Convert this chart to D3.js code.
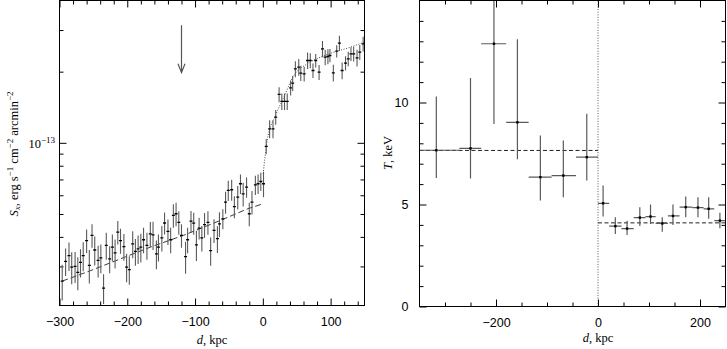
<!DOCTYPE html>
<html>
<head>
<meta charset="utf-8">
<script src="https://cdn.jsdelivr.net/npm/d3@7"></script>
<style>
  body { margin: 0; background: #fff; }
  svg { display: block; font-family: "Liberation Serif", "DejaVu Serif", serif; }
</style>
</head>
<body>
<svg id="chart" width="727" height="349"></svg>
<script>
// surface brightness profile (units of 1e-14 erg s^-1 cm^-2 arcmin^-2)
const sxDist = [-296, -291, -286, -282, -277, -273, -269, -265, -260, -256,
  -252, -248, -243, -239, -235, -231, -226, -222, -218, -214,
  -210, -205, -201, -197, -192, -188, -184, -180, -176, -171,
  -166, -162, -157, -154, -149, -145, -140, -136, -132, -128,
  -124, -120, -114, -111, -106, -102, -98, -94, -90, -86,
  -81, -77, -72, -67, -64, -59, -55, -51, -46, -42,
  -37, -33, -29, -24, -20, -16, -11, -7, -3, 1,
  5, 10, 15, 19, 24, 28, 32, 36, 41, 44,
  48, 53, 56, 61, 66, 70, 74, 78, 83, 88,
  92, 96, 99, 104, 109, 113, 117, 122, 126, 130,
  134, 139, 143, 148];
const sxVal = [2.60, 3.15, 3.33, 2.98, 3.00, 2.83, 3.12, 3.33, 3.86, 3.03,
  4.06, 3.52, 3.18, 3.26, 2.43, 3.68, 3.23, 3.62, 3.42, 4.19,
  3.86, 3.64, 2.98, 2.91, 3.74, 3.47, 3.56, 3.62, 3.89, 3.68,
  4.12, 4.08, 3.39, 3.62, 3.96, 4.58, 4.22, 3.89, 4.93, 5.01,
  4.61, 4.06, 3.30, 3.89, 4.66, 4.57, 3.70, 4.36, 3.96, 4.51,
  4.61, 3.50, 4.26, 3.93, 4.54, 4.77, 5.61, 6.29, 6.33, 5.37,
  5.89, 6.71, 6.08, 6.49, 5.01, 5.61, 6.64, 6.71, 6.86, 6.71,
  9.66, 11.46, 11.46, 12.84, 16.02, 14.96, 14.96, 14.96, 17.09, 17.88,
  20.56, 20.90, 19.71, 19.58, 22.30, 22.30, 20.23, 22.30, 19.90, 24.98,
  23.03, 23.18, 23.41, 19.77, 24.42, 26.40, 20.23, 21.73, 22.66, 23.79,
  23.79, 22.88, 24.18, 26.23];
const sxErr = [0.45, 0.42, 0.46, 0.46, 0.45, 0.45, 0.43, 0.47, 0.44, 0.49,
  0.46, 0.49, 0.49, 0.45, 0.35, 0.48, 0.42, 0.47, 0.48, 0.48,
  0.47, 0.47, 0.41, 0.40, 0.49, 0.45, 0.49, 0.50, 0.48, 0.48,
  0.50, 0.56, 0.47, 0.47, 0.49, 0.49, 0.52, 0.48, 0.56, 0.57,
  0.53, 0.46, 0.51, 0.48, 0.49, 0.49, 0.54, 0.46, 0.49, 0.54,
  0.53, 0.48, 0.49, 0.51, 0.54, 0.46, 0.60, 0.62, 0.64, 0.57,
  0.67, 0.63, 0.70, 0.64, 0.57, 0.64, 0.62, 0.64, 0.61, 0.83,
  0.72, 1.0, 1.0, 0.93, 1.17, 1.2, 1.2, 1.2, 1.25, 1.3,
  1.6, 1.7, 1.45, 1.4, 1.8, 1.6, 1.45, 1.45, 1.45, 1.95,
  1.75, 1.7, 1.5, 1.6, 1.45, 1.95, 1.65, 1.5, 1.6, 1.6,
  1.7, 1.85, 1.75, 1.9];

// model curves
const dashDist = [-296, -254, -210, -166, -117, -63, -23, 0];
const dashVal = [2.60, 2.88, 3.23, 3.62, 4.06, 4.69, 5.25, 5.52];
const dotDist = [0.5, 6.4, 18.7, 31, 45.8, 65.5, 85, 104.8, 129.4, 150];
const dotVal = [7.4, 10.23, 13.06, 15.6, 19.27, 21.59, 23.03, 24.18, 25.39, 26.7];

// arrow marker position
const arrowDist = -120;
const arrowVal = [31.4, 19.8];

// temperature profile, keV
const tDist = [-317, -250, -204, -158, -113, -68, -22, 10, 34, 57, 82, 103, 126, 147, 172, 196, 217, 239];
const tBinLo = [-350, -272, -229, -180, -136, -91, -43, 0, 22, 46, 70, 93, 113, 137, 160, 185, 207, 228];
const tBinHi = [-272, -229, -180, -136, -91, -43, 0, 22, 46, 70, 93, 113, 137, 160, 185, 207, 228, 250];
const tVal = [7.66, 7.75, 12.88, 9.03, 6.34, 6.42, 7.32, 5.06, 3.94, 3.82, 4.36, 4.41, 4.07, 4.44, 4.87, 4.85, 4.79, 4.21];
const tLow = [6.3, 6.27, 8.95, 7.22, 5.2, 5.36, 6.18, 4.41, 3.56, 3.51, 3.94, 4.05, 3.67, 4.0, 4.38, 4.38, 4.3, 3.83];
const tHigh = [10.3, 11.2, 16, 13.1, 8.38, 8.14, 9.45, 5.93, 4.38, 4.2, 4.87, 5.0, 4.38, 5.0, 5.39, 5.36, 5.36, 4.6];
const tMean = [{ from: -350, to: 0, t: 7.65 }, { from: 0, to: 250, t: 4.1 }];

const barColor = '#5a5a5a';
const svg = d3.select('#chart');

// ---------- left panel ----------
const xS = d3.scaleLinear().domain([-300, 150]).range([59.5, 364.5]);
const yS = d3.scaleLog().domain([2.05, 40]).range([305.5, 0.5]);

const left = svg.append('g');
left.append('clipPath').attr('id', 'clipL')
  .append('rect').attr('x', 59.5).attr('y', 0.5).attr('width', 305).attr('height', 305);

function drawTicks(g, scale, orient, major, minor, pos, labels) {
  const make = orient === 'bottom' ? d3.axisBottom : orient === 'top' ? d3.axisTop
    : orient === 'left' ? d3.axisLeft : d3.axisRight;
  const translate = (orient === 'bottom' || orient === 'top') ? `translate(0,${pos})` : `translate(${pos},0)`;
  const gMin = g.append('g').attr('transform', translate)
    .call(make(scale).tickValues(minor).tickSize(-4).tickFormat(''));
  const gMaj = g.append('g').attr('transform', translate)
    .call(make(scale).tickValues(major).tickSize(-7).tickPadding(orient === 'bottom' ? 12 : 11)
      .tickFormat(labels ? d3.format('d') : ''));
  [gMin, gMaj].forEach(a => {
    a.select('.domain').remove();
    a.selectAll('line').attr('stroke', '#000');
    a.selectAll('text').attr('font-family', null).attr('font-size', 12.5).attr('fill', '#000');
  });
}

const xMajL = [-300, -200, -100, 0, 100];
const xMinL = d3.range(-280, 150, 20).filter(v => v % 100 !== 0);
drawTicks(left, xS, 'bottom', xMajL, xMinL, 305.5, true);
drawTicks(left, xS, 'top', xMajL, xMinL, 0.5, false);
const yMajL = [10];
const yMinL = [3, 4, 5, 6, 7, 8, 9, 20, 30];
drawTicks(left, yS, 'left', yMajL, yMinL, 59.5, false);
drawTicks(left, yS, 'right', yMajL, yMinL, 364.5, false);

// 10^-13 label
const lab13 = left.append('text')
  .attr('x', 55).attr('y', yS(10) + 5)
  .attr('text-anchor', 'end').attr('font-size', 12.5);
lab13.append('tspan').text('10');
lab13.append('tspan').attr('font-size', 9).attr('dy', -5).text('\u221213');

const plotL = left.append('g').attr('clip-path', 'url(#clipL)');

plotL.append('path')
  .datum(dashDist.map((d, i) => [d, dashVal[i]]))
  .attr('fill', 'none').attr('stroke', '#222').attr('stroke-width', 0.9)
  .attr('stroke-dasharray', '6,3')
  .attr('d', d3.line().x(d => xS(d[0])).y(d => yS(d[1])));

plotL.append('path')
  .datum(dotDist.map((d, i) => [d, dotVal[i]]))
  .attr('fill', 'none').attr('stroke', '#333').attr('stroke-width', 0.9)
  .attr('stroke-dasharray', '1,1.6')
  .attr('d', d3.line().curve(d3.curveMonotoneX).x(d => xS(d[0])).y(d => yS(d[1])));

const pts = plotL.selectAll('g.pt')
  .data(sxDist.map((d, i) => ({ d: d, v: sxVal[i], e: sxErr[i] })))
  .enter().append('g').attr('class', 'pt');
pts.append('line')
  .attr('x1', p => xS(p.d)).attr('x2', p => xS(p.d))
  .attr('y1', p => yS(p.v - p.e)).attr('y2', p => yS(p.v + p.e))
  .attr('stroke', barColor).attr('stroke-width', 1.1);
pts.append('line')
  .attr('x1', p => xS(p.d - 2.2)).attr('x2', p => xS(p.d + 2.2))
  .attr('y1', p => yS(p.v)).attr('y2', p => yS(p.v))
  .attr('stroke', '#000').attr('stroke-width', 1.3);

// arrow
const ax = xS(arrowDist), ay0 = yS(arrowVal[0]), ay1 = yS(arrowVal[1]);
plotL.append('path')
  .attr('d', `M${ax},${ay0}L${ax},${ay1}M${ax - 3.5},${ay1 - 9}L${ax},${ay1}L${ax + 3.5},${ay1 - 9}`)
  .attr('fill', 'none').attr('stroke', '#555').attr('stroke-width', 1.2);

left.append('rect')
  .attr('x', 59.5).attr('y', 0.5).attr('width', 305).attr('height', 305)
  .attr('fill', 'none').attr('stroke', '#000');

// axis titles
const xtL = left.append('text').attr('x', 212).attr('y', 344)
  .attr('text-anchor', 'middle').attr('font-size', 12.5);
xtL.append('tspan').attr('font-style', 'italic').text('d');
xtL.append('tspan').text(', kpc');

const ytL = left.append('text').attr('transform', 'translate(18,154) rotate(-90)')
  .attr('text-anchor', 'middle').attr('font-size', 12.5);
ytL.append('tspan').attr('font-style', 'italic').text('S');
ytL.append('tspan').attr('font-style', 'italic').attr('font-size', 9).attr('dy', 2).text('x');
ytL.append('tspan').attr('dy', -2).text(', erg s');
ytL.append('tspan').attr('font-size', 9).attr('dy', -5).text('\u22121');
ytL.append('tspan').attr('dy', 5).text(' cm');
ytL.append('tspan').attr('font-size', 9).attr('dy', -5).text('\u22122');
ytL.append('tspan').attr('dy', 5).text(' arcmin');
ytL.append('tspan').attr('font-size', 9).attr('dy', -5).text('\u22122');

// ---------- right panel ----------
const xT = d3.scaleLinear().domain([-350, 250]).range([419.5, 725.5]);
const yT = d3.scaleLinear().domain([0, 15]).range([306.5, 0.5]);

const right = svg.append('g');
right.append('clipPath').attr('id', 'clipR')
  .append('rect').attr('x', 419.5).attr('y', 0.5).attr('width', 306).attr('height', 306);

const xMajR = [-200, 0, 200];
const xMinR = d3.range(-300, 250, 50).filter(v => v % 200 !== 0);
drawTicks(right, xT, 'bottom', xMajR, xMinR, 306.5, true);
drawTicks(right, xT, 'top', xMajR, xMinR, 0.5, false);
const yMajR = [0, 5, 10];
const yMinR = d3.range(1, 15).filter(v => v % 5 !== 0);
drawTicks(right, yT, 'left', yMajR, yMinR, 419.5, true);
drawTicks(right, yT, 'right', yMajR, yMinR, 725.5, false);

const plotR = right.append('g').attr('clip-path', 'url(#clipR)');

plotR.append('line')
  .attr('x1', xT(0)).attr('x2', xT(0)).attr('y1', yT(0)).attr('y2', yT(15))
  .attr('stroke', '#444').attr('stroke-width', 0.9).attr('stroke-dasharray', '1,1.6');

plotR.selectAll('line.mean').data(tMean).enter().append('line')
  .attr('class', 'mean')
  .attr('x1', m => xT(m.from)).attr('x2', m => xT(m.to))
  .attr('y1', m => yT(m.t)).attr('y2', m => yT(m.t))
  .attr('stroke', '#222').attr('stroke-width', 1).attr('stroke-dasharray', '4,2.5');

const tp = plotR.selectAll('g.tp')
  .data(tDist.map((d, i) => ({ d: d, lo: tBinLo[i], hi: tBinHi[i], t: tVal[i], tl: tLow[i], th: tHigh[i] })))
  .enter().append('g').attr('class', 'tp');
tp.append('line')
  .attr('x1', p => xT(p.lo)).attr('x2', p => xT(p.hi))
  .attr('y1', p => yT(p.t)).attr('y2', p => yT(p.t))
  .attr('stroke', barColor).attr('stroke-width', 1.2);
tp.append('line')
  .attr('x1', p => xT(p.d)).attr('x2', p => xT(p.d))
  .attr('y1', p => yT(p.tl)).attr('y2', p => yT(p.th))
  .attr('stroke', barColor).attr('stroke-width', 1.2);
tp.append('rect')
  .attr('x', p => xT(p.d) - 1.2).attr('y', p => yT(p.t) - 1.2)
  .attr('width', 2.4).attr('height', 2.4).attr('fill', '#000');

right.append('rect')
  .attr('x', 419.5).attr('y', 0.5).attr('width', 306).attr('height', 306)
  .attr('fill', 'none').attr('stroke', '#000');

const xtR = right.append('text').attr('x', xT(0)).attr('y', 342)
  .attr('text-anchor', 'middle').attr('font-size', 12.5);
xtR.append('tspan').attr('font-style', 'italic').text('d');
xtR.append('tspan').text(', kpc');

const ytR = right.append('text').attr('transform', 'translate(392,153) rotate(-90)')
  .attr('text-anchor', 'middle').attr('font-size', 12.5);
ytR.append('tspan').attr('font-style', 'italic').text('T');
ytR.append('tspan').text(', keV');
</script>
</body>
</html>
